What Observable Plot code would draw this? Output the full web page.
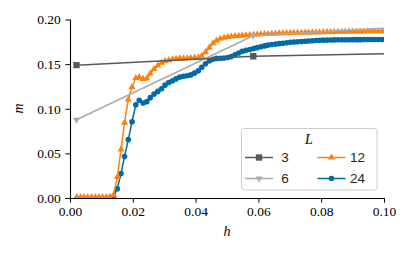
<!DOCTYPE html>
<html>
<head>
<meta charset="utf-8">
<script src="https://cdn.jsdelivr.net/npm/d3@7"></script>
<script src="https://cdn.jsdelivr.net/npm/@observablehq/plot@0.6"></script>
<style>
  html, body { margin: 0; padding: 0; background: white; }
  #chart { width: 411px; height: 254px; }
</style>
</head>
<body>
<div id="chart"></div>
<script>
// ---- data ----
const sizeLabels = ["3", "6", "12", "24"];
const xTicks = [0, 0.02, 0.04, 0.06, 0.08, 0.10];
const yTicks = [0, 0.05, 0.10, 0.15, 0.20];

// coarse field grid (L = 3, 6)
const hCoarse = [0.0019, 0.0582, 0.1145];
const m3 = [0.1494, 0.1594, 0.1630];
const m6 = [0.0882, 0.1823, 0.1937];

// fine field grid (L = 12, 24)
const hFine = [
  0.0020, 0.0032, 0.0043, 0.0055, 0.0067, 0.0079, 0.0090, 0.0102, 0.0114, 0.0125,
  0.0137, 0.0149, 0.0161, 0.0172, 0.0184, 0.0196, 0.0208, 0.0219, 0.0231, 0.0243,
  0.0254, 0.0266, 0.0278, 0.0290, 0.0301, 0.0313, 0.0325, 0.0336, 0.0348, 0.0360,
  0.0372, 0.0383, 0.0395, 0.0407, 0.0418, 0.0430, 0.0442, 0.0454, 0.0465, 0.0477,
  0.0489, 0.0501, 0.0512, 0.0524, 0.0536, 0.0547, 0.0559, 0.0571, 0.0583, 0.0594,
  0.0606, 0.0618, 0.0629, 0.0641, 0.0653, 0.0665, 0.0676, 0.0688, 0.0700, 0.0711,
  0.0723, 0.0735, 0.0747, 0.0758, 0.0770, 0.0782, 0.0793, 0.0805, 0.0817, 0.0829,
  0.0840, 0.0852, 0.0864, 0.0875, 0.0887, 0.0899, 0.0911, 0.0922, 0.0934, 0.0946,
  0.0958, 0.0969, 0.0981, 0.0993, 0.1004
];
const m12 = [
  0.0015, 0.0015, 0.0015, 0.0015, 0.0015, 0.0015, 0.0015, 0.0015, 0.0016, 0.0020,
  0.0040, 0.0240, 0.0550, 0.0850, 0.1110, 0.1250, 0.1350, 0.1360, 0.1340, 0.1345,
  0.1400, 0.1450, 0.1490, 0.1520, 0.1540, 0.1550, 0.1560, 0.1565, 0.1570, 0.1570,
  0.1572, 0.1575, 0.1578, 0.1580, 0.1600, 0.1640, 0.1690, 0.1740, 0.1770, 0.1790,
  0.1800, 0.1810, 0.1815, 0.1820, 0.1823, 0.1826, 0.1829, 0.1832, 0.1835, 0.1838,
  0.1840, 0.1842, 0.1844, 0.1846, 0.1848, 0.1850, 0.1852, 0.1853, 0.1855, 0.1856,
  0.1857, 0.1858, 0.1859, 0.1860, 0.1861, 0.1862, 0.1863, 0.1864, 0.1865, 0.1866,
  0.1867, 0.1868, 0.1869, 0.1869, 0.1870, 0.1870, 0.1871, 0.1872, 0.1872, 0.1873,
  0.1873, 0.1874, 0.1874, 0.1875, 0.1875
];
const m24 = [
  0.0000, 0.0000, 0.0000, 0.0000, 0.0000, 0.0000, 0.0000, 0.0000, 0.0000, 0.0000,
  0.0020, 0.0110, 0.0280, 0.0470, 0.0660, 0.0860, 0.1050, 0.1100, 0.1070, 0.1085,
  0.1130, 0.1170, 0.1200, 0.1230, 0.1270, 0.1300, 0.1320, 0.1340, 0.1360, 0.1370,
  0.1375, 0.1385, 0.1405, 0.1430, 0.1470, 0.1510, 0.1540, 0.1560, 0.1570, 0.1572,
  0.1574, 0.1580, 0.1590, 0.1610, 0.1630, 0.1650, 0.1660, 0.1670, 0.1680, 0.1690,
  0.1700, 0.1710, 0.1718, 0.1725, 0.1730, 0.1735, 0.1740, 0.1745, 0.1750, 0.1753,
  0.1756, 0.1759, 0.1762, 0.1765, 0.1768, 0.1770, 0.1772, 0.1774, 0.1775, 0.1776,
  0.1777, 0.1778, 0.1778, 0.1779, 0.1779, 0.1780, 0.1780, 0.1780, 0.1781, 0.1781,
  0.1781, 0.1782, 0.1782, 0.1782, 0.1782
];

// ---- build tables ----
const colors = {"3": "#595959", "6": "#ABABAB", "12": "#FF800E", "24": "#006BA4"};
const sqrt3 = Math.sqrt(3);
const triangleDown = {
  draw(context, size) {
    const y = Math.sqrt(size / (sqrt3 * 3));
    context.moveTo(0, y * 2);
    context.lineTo(-sqrt3 * y, -y);
    context.lineTo(sqrt3 * y, -y);
    context.closePath();
  }
};
const symbols = {"3": "square", "6": triangleDown, "12": "triangle", "24": "circle"};
const radii = {"3": 3.6, "6": 2.6, "12": 2.6, "24": 2.8};

const series = {
  "3": hCoarse.map((h, i) => ({h, m: m3[i]})),
  "6": hCoarse.map((h, i) => ({h, m: m6[i]})),
  "12": hFine.map((h, i) => ({h, m: m12[i]})),
  "24": hFine.map((h, i) => ({h, m: m24[i]}))
};

// draw order: 24 first, 3 last
const drawOrder = ["24", "12", "6", "3"];
const marks = [];
for (const L of drawOrder) {
  marks.push(Plot.line(series[L], {x: "h", y: "m", stroke: colors[L], strokeWidth: 1.5, clip: true}));
  marks.push(Plot.dot(series[L], {x: "h", y: "m", fill: colors[L], stroke: "none", symbol: symbols[L], r: radii[L], clip: true}));
}
marks.push(Plot.ruleX([0], {stroke: "black", strokeWidth: 1.1}));
marks.push(Plot.ruleY([0], {stroke: "black", strokeWidth: 1.1}));

const svg = Plot.plot({
  width: 411,
  height: 254,
  marginLeft: 70,
  marginRight: 27,
  marginTop: 19.5,
  marginBottom: 56,
  style: {background: "white", color: "black", overflow: "visible"},
  x: {domain: [0, 0.1], ticks: xTicks, tickFormat: d3.format(".2f"), tickSize: 4.7, tickPadding: 3.5, label: null},
  y: {domain: [0, 0.2], ticks: yTicks, tickFormat: d3.format(".2f"), tickSize: 4.7, tickPadding: 5, label: null},
  marks
});
document.getElementById("chart").appendChild(svg);

const SERIF = "'Liberation Serif', 'Times New Roman', serif";
const SANS = "'Liberation Sans', Arial, sans-serif";

// force tick label font inline
d3.select(svg).selectAll("text")
  .style("font-family", SERIF)
  .style("font-size", "13.5px")
  .attr("fill", "black");

// ---- axis labels and legend ----
const s = d3.select(svg);
s.append("text").text("h")
  .attr("x", 227).attr("y", 236)
  .attr("text-anchor", "middle")
  .style("font-family", SERIF).style("font-style", "italic").style("font-size", "14px");
s.append("text").text("m")
  .attr("transform", "translate(23,108.5) rotate(-90)")
  .attr("text-anchor", "middle")
  .style("font-family", SERIF).style("font-style", "italic").style("font-size", "14px");

const lg = s.append("g");
lg.append("rect").attr("x", 241.5).attr("y", 128.5).attr("width", 135.5).attr("height", 61.5)
  .attr("rx", 3).attr("fill", "white").attr("fill-opacity", 0.8).attr("stroke", "#cccccc").attr("stroke-width", 1);
lg.append("text").text("L").attr("x", 309).attr("y", 144)
  .attr("text-anchor", "middle")
  .style("font-family", SERIF).style("font-style", "italic").style("font-size", "14px");

const legendPos = [
  {L: "3", x: 245, y: 157.5},
  {L: "6", x: 245, y: 178.5},
  {L: "12", x: 317.5, y: 157.5},
  {L: "24", x: 317.5, y: 178.5}
];
for (const p of legendPos) {
  lg.append("line").attr("x1", p.x).attr("x2", p.x + 28).attr("y1", p.y).attr("y2", p.y)
    .attr("stroke", colors[p.L]).attr("stroke-width", 1.5);
  const sym = typeof symbols[p.L] === "string"
    ? {square: d3.symbolSquare, triangle: d3.symbolTriangle, circle: d3.symbolCircle}[symbols[p.L]]
    : symbols[p.L];
  const r = radii[p.L];
  lg.append("path").attr("d", d3.symbol(sym, Math.PI * r * r)())
    .attr("transform", `translate(${p.x + 14},${p.y})`)
    .attr("fill", colors[p.L]);
  lg.append("text").text(p.L).attr("x", p.x + 40).attr("y", p.y).attr("dy", "0.36em")
    .style("font-family", SANS).style("font-size", "13.5px").attr("fill", "#262626");
}
</script>
</body>
</html>
